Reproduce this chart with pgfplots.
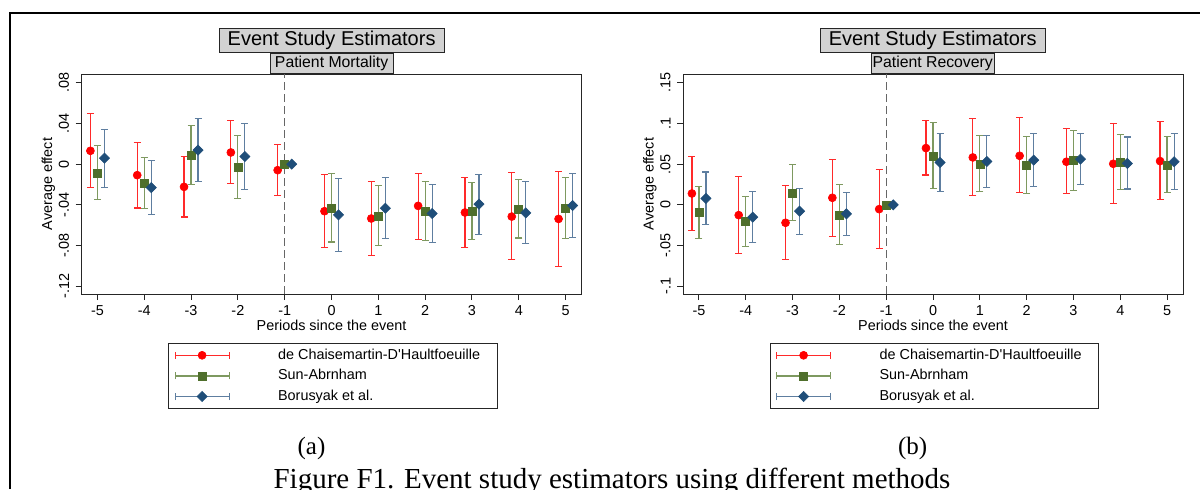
\documentclass[border=0pt]{standalone}
\usepackage{pgfplots}
\pgfplotsset{compat=1.18}
\usepackage{pgfplotstable}
\usepackage{fontspec}
\setmainfont{Liberation Serif}
\newfontfamily\arial{Liberation Sans}
\definecolor{cRed}{HTML}{FF0000}
\definecolor{cRedCI}{HTML}{FF2A2A}
\definecolor{cGrn}{HTML}{4F6F2C}
\definecolor{cGrnCI}{HTML}{7E9960}
\definecolor{cBlu}{HTML}{1F4E79}
\definecolor{cBluCI}{HTML}{5E7EA0}
\definecolor{frm}{HTML}{262626}

% d = de Chaisemartin-D'Haultfoeuille, s = Sun-Abrnham, b = Borusyak et al.
\pgfplotstableread{
p  dy      dlo     dhi     sy      slo     shi     by      blo     bhi
-5  0.0131 -0.0233  0.0498 -0.0089 -0.0348  0.0180  0.0059 -0.0226  0.0340
-4 -0.0108 -0.0430  0.0216 -0.0184 -0.0433  0.0066 -0.0230 -0.0495  0.0039
-3 -0.0223 -0.0520  0.0079  0.0089 -0.0197  0.0377  0.0138 -0.0174  0.0449
-2  0.0115 -0.0193  0.0433 -0.0026 -0.0341  0.0279  0.0075 -0.0249  0.0397
-1 -0.0059 -0.0308  0.0193  0       0       0       0       0       0
 0 -0.0462 -0.0820 -0.0102 -0.0430 -0.0764 -0.0089 -0.0498 -0.0856 -0.0138
 1 -0.0534 -0.0898 -0.0167 -0.0511 -0.0803 -0.0213 -0.0433 -0.0734 -0.0131
 2 -0.0410 -0.0738 -0.0092 -0.0466 -0.0748 -0.0167 -0.0485 -0.0767 -0.0200
 3 -0.0475 -0.0820 -0.0128 -0.0462 -0.0738 -0.0184 -0.0393 -0.0692 -0.0102
 4 -0.0515 -0.0934 -0.0085 -0.0443 -0.0725 -0.0151 -0.0479 -0.0780 -0.0174
 5 -0.0538 -0.1003 -0.0072 -0.0433 -0.0731 -0.0131 -0.0407 -0.0721 -0.0092
}\mort
\pgfplotstableread{
p  dy      dlo     dhi     sy      slo     shi     by      blo     bhi
-5  0.0139 -0.0316  0.0594 -0.0098 -0.0418  0.0225  0.0078 -0.0242  0.0402
-4 -0.0127 -0.0598  0.0348 -0.0201 -0.0512  0.0102 -0.0152 -0.0467  0.0160
-3 -0.0221 -0.0672  0.0238  0.0143 -0.0197  0.0496 -0.0078 -0.0361  0.0201
-2  0.0086 -0.0385  0.0561 -0.0127 -0.0492  0.0250 -0.0111 -0.0377  0.0148
-1 -0.0053 -0.0537  0.0430  0       0       0       0       0       0
 0  0.0697  0.0365  0.1033  0.0598  0.0197  0.1016  0.0520  0.0168  0.0880
 1  0.0582  0.0119  0.1057  0.0500  0.0168  0.0852  0.0533  0.0213  0.0856
 2  0.0602  0.0148  0.1070  0.0484  0.0143  0.0836  0.0549  0.0221  0.0873
 3  0.0529  0.0139  0.0934  0.0549  0.0180  0.0910  0.0561  0.0254  0.0881
 4  0.0504  0.0016  0.0996  0.0520  0.0184  0.0868  0.0508  0.0193  0.0832
 5  0.0537  0.0066  0.1020  0.0484  0.0152  0.0844  0.0529  0.0184  0.0877
}\recov

\newcommand\sz{\arial\fontsize{7.2}{8.6}\selectfont}

\pgfplotsset{
  ci/.style n args={4}{only marks, color=#1, line width=0.6pt, mark=#3,
    mark options={draw=#2, fill=#2, solid, line width=0.3pt, rotate=#4},
    error bars/y dir=both, error bars/y explicit,
    error bars/error bar style={color=#1, line width=0.6pt},
    error bars/error mark options={color=#1, line width=0.6pt, mark size=1.75pt, rotate=90},
    legend image code/.code={
      \draw[#1, mark=none, solid] (0pt,0pt) -- (27pt,0pt);
      \draw[#1, mark=none, solid] (0pt,-1.75pt) -- (0pt,1.75pt);
      \draw[#1, mark=none, solid] (27pt,-1.75pt) -- (27pt,1.75pt);
      \draw[#1] plot coordinates {(13.5pt,0pt)};
      \path[draw=none, fill=none] (0pt,0pt) -- (51.5pt,0pt);
    }},
  es/.style={
    scale only axis, width=250pt, height=110pt, anchor=south west,
    xmin=-5.34, xmax=5.34,
    xtick={-5,-4,-3,-2,-1,0,1,2,3,4,5},
    xticklabels={-5,-4,-3,-2,-1,0,1,2,3,4,5},
    tick pos=left, tick align=outside, major tick length=3pt,
    axis line style={frm, line width=0.5pt},
    every tick/.style={frm, line width=0.5pt},
    tick label style={font=\sz},
    yticklabel style={rotate=90, anchor=south, inner sep=0pt},
    xticklabel style={anchor=north, inner sep=0pt},
    yticklabel shift=3pt, xticklabel shift=2.5pt,
    label style={font=\sz},
    xlabel={Periods since the event}, ylabel={Average effect},
    x label style={at={(axis description cs:0.5,-0.141)}, anchor=center},
    y label style={at={(axis description cs:-0.066,0.5)}, anchor=center},
    legend style={at={(0.173,-0.2227)}, anchor=north west, draw=frm,
      line width=0.5pt, fill=white, font=\sz, inner xsep=3pt, inner ysep=2.5pt,
      row sep=3.5pt, nodes={inner sep=0pt, text height=5.3pt, text depth=1.5pt}},
    legend cell align=left,
  },
}

\newcommand\panel[1]{%
  \draw[black!60, line width=0.6pt, dash pattern=on 4pt off 2pt]
    ({axis cs:-1,0}|-{rel axis cs:0,0}) -- ({axis cs:-1,0}|-{rel axis cs:0,1});
  \addplot[ci={cRedCI}{cRed}{*}{0}, mark size=2pt] table[x expr=\thisrow{p}-0.15, y=dy,
    y error plus expr=\thisrow{dhi}-\thisrow{dy}, y error minus expr=\thisrow{dy}-\thisrow{dlo}] {#1};
  \addlegendentry{de Chaisemartin-D\textquotesingle Haultfoeuille\hspace*{5.5pt}}
  \addplot[ci={cGrnCI}{cGrn}{square*}{0}, mark size=2pt] table[x expr=\thisrow{p}, y=sy,
    y error plus expr=\thisrow{shi}-\thisrow{sy}, y error minus expr=\thisrow{sy}-\thisrow{slo}] {#1};
  \addlegendentry{Sun-Abrnham}
  \addplot[ci={cBluCI}{cBlu}{square*}{45}, mark size=1.8pt] table[x expr=\thisrow{p}+0.15, y=by,
    y error plus expr=\thisrow{bhi}-\thisrow{by}, y error minus expr=\thisrow{by}-\thisrow{blo}] {#1};
  \addlegendentry{Borusyak et al.}
}

\begin{document}
\begin{tikzpicture}
\begin{scope}[x=0.5pt,y=-0.5pt]
  \path[use as bounding box] (0,0) rectangle (1200,489);
  \clip (0,0) rectangle (1200,489);
  \draw[black, line width=0.8pt] (10,489) -- (10,13) -- (1200,13);
  \coordinate (L) at (81.5,294);
  \coordinate (R) at (683,294);
  \foreach \cx/\sub in {331.6/Patient Mortality, 932.7/Patient Recovery} {
    \node[draw=frm, fill=gray!35, line width=0.5pt, minimum width=112.5pt, minimum height=12pt,
      inner sep=0pt, font=\arial\fontsize{10}{12}\selectfont] at (\cx,40) {Event Study Estimators};
    \node[draw=frm, fill=gray!35, line width=0.5pt, minimum width=61.5pt, minimum height=10pt,
      inner sep=0pt, font=\arial\fontsize{7.9}{9.5}\selectfont] at (\cx,63) {\sub};
  }
  \node[font=\fontsize{12.5}{14}\selectfont, anchor=base] at (311.5,454) {(a)};
  \node[font=\fontsize{12.5}{14}\selectfont, anchor=base] at (912.7,454) {(b)};
  \node[font=\fontsize{14.5}{17}\selectfont, anchor=base] at (612,488)
    {Figure F1. Event study estimators using different methods};
\end{scope}

\begin{axis}[es, at={(L)}, ymin=-0.1276, ymax=0.0886,
    ytick={-0.12,-0.08,-0.04,0,0.04,0.08}, yticklabels={-.12,-.08,-.04,0,.04,.08}]
  \panel{\mort}
\end{axis}

\begin{axis}[es, at={(R)}, ymin=-0.1096, ymax=0.1607,
    ytick={-0.1,-0.05,0,0.05,0.1,0.15}, yticklabels={-.1,-.05,0,.05,.1,.15}]
  \panel{\recov}
\end{axis}
\end{tikzpicture}
\end{document}
